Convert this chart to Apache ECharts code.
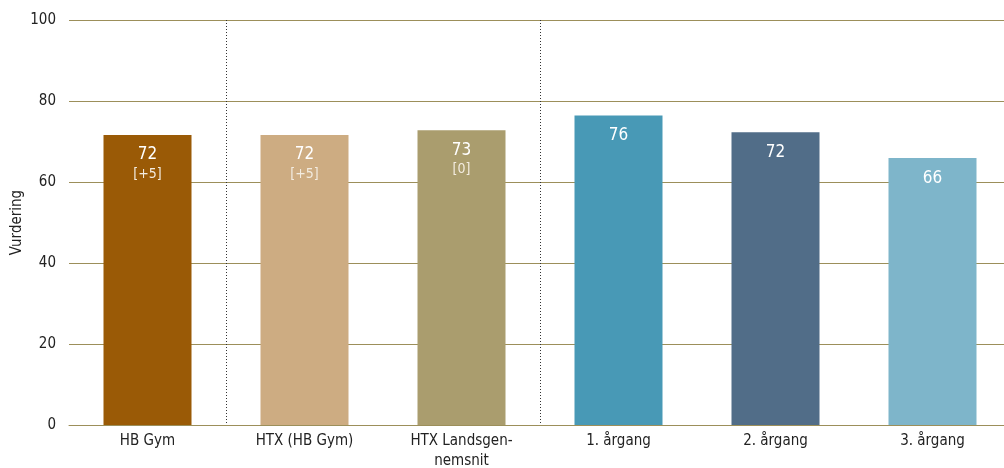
<!DOCTYPE html>
<html>
<head>
<meta charset="utf-8">
<script src="https://cdn.jsdelivr.net/npm/echarts@6/dist/echarts.min.js"></script>
<style>html,body{margin:0;padding:0;background:#fff;}#c{width:1004px;height:468px;}</style>
</head>
<body>
<div id="c"></div>
<script>
const categories = ['HB Gym', 'HTX (HB Gym)', 'HTX Landsgen-\nnemsnit', '1. årgang', '2. årgang', '3. årgang'];
const values = [71.6, 71.6, 72.8, 76.4, 72.3, 65.9];
const labels = ['72', '72', '73', '76', '72', '66'];
const deltas = ['[+5]', '[+5]', '[0]', null, null, null];
const colors = ['#9a5a06', '#cdac82', '#aa9d6e', '#4899b6', '#516d88', '#7eb5ca'];
const yTicks = [0, 20, 40, 60, 80, 100];
const separatorsAfter = [1, 3];

const chart = echarts.init(document.getElementById('c'));
const font = '"DejaVu Sans Condensed", "DejaVu Sans"';
chart.setOption({
  animation: false,
  textStyle: { fontFamily: font },
  grid: { left: 69, width: 942, top: 20, height: 405, containLabel: false, outerBoundsMode: 'none' },
  xAxis: {
    type: 'category',
    data: categories,
    boundaryGap: true,
    axisLine: { show: true, lineStyle: { color: '#9c8f5a', width: 1 } },
    axisTick: { show: false },
    axisLabel: { color: '#222', fontSize: 15, fontFamily: font, margin: 6, lineHeight: 20, interval: 0 },
    splitLine: {
      show: true,
      interval: function (index) { return separatorsAfter.indexOf(index) >= 0; },
      lineStyle: { color: '#333', type: [1, 2], width: 1 }
    }
  },
  yAxis: {
    type: 'value',
    min: yTicks[0], max: yTicks[yTicks.length - 1], interval: 20,
    name: 'Vurdering',
    nameLocation: 'middle',
    nameGap: 44,
    nameMoveOverlap: false,
    nameTextStyle: { color: '#222', fontSize: 15, fontFamily: font },
    axisLine: { show: false },
    axisTick: { show: false },
    axisLabel: { color: '#222', fontSize: 15, fontFamily: font, margin: 13 },
    splitLine: { show: true, lineStyle: { color: '#9c8f5a', width: 1 } }
  },
  series: [{
    type: 'bar',
    barWidth: 88,
    data: values.map((v, i) => ({
      value: v,
      itemStyle: { color: colors[i] },
      label: {
        show: true,
        position: 'insideTop',
        distance: 10,
        formatter: deltas[i] ? '{a|' + labels[i] + '}\n{b|' + deltas[i] + '}' : '{a|' + labels[i] + '}',
        rich: {
          a: { color: '#fff', fontSize: 17, fontFamily: font, lineHeight: 20 },
          b: { color: '#f3ece0', fontSize: 14, fontFamily: font, lineHeight: 18 }
        }
      }
    }))
  }]
});
</script>
</body>
</html>
